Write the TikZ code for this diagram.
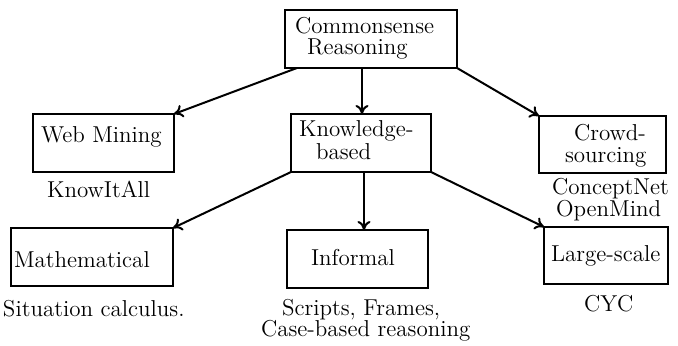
\documentclass[tikz,border=0pt]{standalone}
\usetikzlibrary{arrows.meta}
\begin{document}
\begin{tikzpicture}[x=0.5pt,y=-0.5pt,
  box/.style={draw, line width=1.3pt, rectangle, inner sep=0pt, outer sep=0pt},
  lbl/.style={anchor=base west, inner sep=0pt, outer sep=0pt, font=\fontsize{11.5}{13}\selectfont},
  link/.style={line width=1pt, -{To[length=4.5pt,width=6.5pt]}}]
\useasboundingbox (0,0) rectangle (678,346);

% boxes
\node[box, minimum width=86pt,   minimum height=29pt]   (cr) at (371,39) {};
\node[box, minimum width=70.5pt, minimum height=29pt]   (wm) at (103.5,143) {};
\node[box, minimum width=70pt,   minimum height=29pt]   (kb) at (361,143) {};
\node[box, minimum width=63.5pt, minimum height=28.5pt] (cs) at (602.5,144.5) {};
\node[box, minimum width=81pt,   minimum height=29pt]   (ma) at (92,257) {};
\node[box, minimum width=70.5pt, minimum height=29pt]   (in) at (357.5,259) {};
\node[box, minimum width=62pt,   minimum height=28.5pt] (ls) at (606,255.5) {};

% box labels
\node[lbl] (cr1) at (295,34) {Commonsense};
\node[lbl] (cr2) at (307,55) {Reasoning};
\node[lbl] (wm1) at (41,143) {Web Mining};
\node[lbl] (kb1) at (299,137) {Knowledge-};
\node[lbl] (kb2) at (316,160) {based};
\node[lbl] (cs1) at (574,141) {Crowd-};
\node[lbl] (cs2) at (565,163) {sourcing};
\node[lbl] (ma1) at (14,268) {Mathematical};
\node[lbl] (in1) at (311,266) {Informal};
\node[lbl] (ls1) at (551,262) {Large-scale};

% examples below the boxes
\node[lbl] (wmx)  at (47,198)  {KnowItAll};
\node[lbl] (csx1) at (552,195) {ConceptNet};
\node[lbl] (csx2) at (556,217) {OpenMind};
\node[lbl] (max)  at (3,317)   {Situation calculus.};
\node[lbl] (inx1) at (282,315) {Scripts, Frames,};
\node[lbl] (inx2) at (261,336) {Case-based reasoning};
\node[lbl] (lsx)  at (584,312) {CYC};

% connectors
\draw[link] ([xshift=6pt]cr.south west) -- (wm.north east);
\draw[link] ([xshift=-4.5pt]cr.south) -- ([xshift=0.5pt]kb.north);
\draw[link] (cr.south east) -- (cs.north west);
\draw[link] (kb.south west) -- (ma.north east);
\draw[link] ([xshift=1.5pt]kb.south) -- ([xshift=3.25pt]in.north);
\draw[link] (kb.south east) -- (ls.north west);
\end{tikzpicture}
\end{document}
